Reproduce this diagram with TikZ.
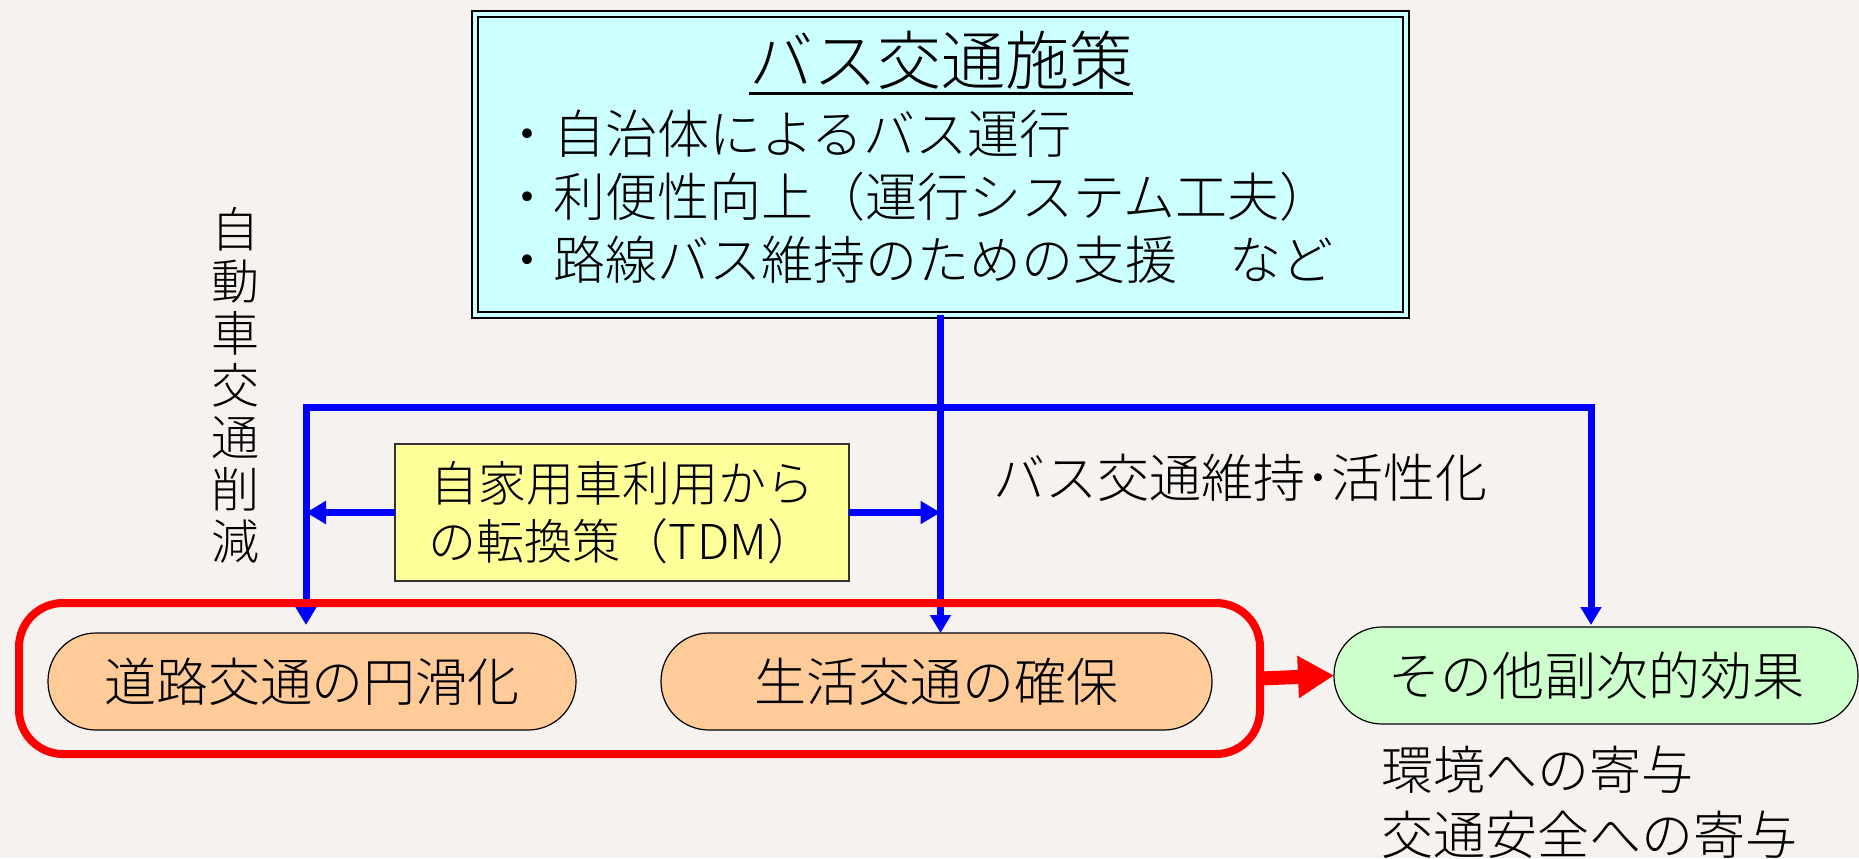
\documentclass[tikz,border=0pt]{standalone}
\usepackage{fontspec}
\setmainfont{Noto Sans CJK JP}[UprightFont=* Light]
\usetikzlibrary{arrows.meta,calc}
\definecolor{bg}{HTML}{F6F2EF}
\definecolor{topfill}{HTML}{CCFFFF}
\definecolor{orangefill}{HTML}{FFCC99}
\definecolor{greenfill}{HTML}{CCFFCC}
\definecolor{yellowfill}{HTML}{FFFF99}
\definecolor{bluel}{HTML}{0000FF}
\definecolor{redl}{HTML}{FF0000}
\begin{document}
\begin{tikzpicture}[x=0.5pt,y=-0.5pt,
  every node/.style={inner sep=0pt, outer sep=0pt},
  jp/.style={font=\fontsize{26}{31.5}\selectfont},
  goal/.style={draw=black, line width=0.6pt, fill=orangefill, rounded corners=24pt, minimum height=48.5pt, jp},
  other/.style={draw=black, line width=0.6pt, fill=greenfill, rounded corners=24pt, minimum height=48.5pt, jp},
  bl/.style={draw=bluel, line width=3.5pt},
  tipv/.tip={Triangle[length=9pt,width=10pt]},
  tiph/.tip={Triangle[length=10pt,width=11pt]},
  tipr/.tip={Triangle[length=18pt,width=20pt]}
]
\fill[bg] (0,0) rectangle (1859,858);
\useasboundingbox (0,0) rectangle (1859,858);

% top box
\node[draw=black, line width=1pt, double=topfill, double distance=2pt, fill=topfill,
      minimum width=465.5pt, minimum height=150.5pt] (top) at (940.5,164.5) {};
\node[font=\fontsize{32}{36}\selectfont, anchor=base] (title) at (941,84) {バス交通施策};
\draw[line width=1.5pt] ($(title.base west)+(0,9)$) -- ($(title.base east)+(0,9)$);
\node[jp, anchor=west, align=left] (list) at (501,197)
  {・自治体によるバス運行\\・利便性向上（運行システム工夫）\\・路線バス維持のための支援　など};

% TDM box
\node[draw=black!80, line width=0.6pt, fill=yellowfill, minimum width=227pt, minimum height=68.5pt,
      align=center, font=\fontsize{24}{29}\selectfont] (tdm) at (622,512.5)
  {自家用車利用から\\の転換策（TDM）};

% goals
\node[goal, minimum width=264pt] (road) at (312,681.5) {道路交通の円滑化};
\node[goal, minimum width=275.5pt] (life) at (936.5,681.5) {生活交通の確保};
\node[other, minimum width=262pt] (eff) at (1596,675.5) {その他副次的効果};

% blue connectors
\coordinate (hl) at (306,407);
\coordinate (hr) at (1591,407);
\coordinate (la) at (306,625);
\coordinate (ra) at (1591,625);
\draw[bl, tipv-tipv] (la) -- (hl) -- (hr) -- (ra);
\draw[bl, -tipv] (top.south) -- (top.south |- life.north);
\draw[bl, -tiph] (tdm.west) -- (tdm.west -| hl);
\draw[bl, -tiph] (tdm.east) -- (tdm.east -| top.south);

% red group
\node[draw=redl, line width=4pt, rounded corners=22pt, minimum width=620.5pt, minimum height=75.5pt] (grp) at (639.5,678.5) {};
\draw[redl, line width=7pt, -tipr] (grp.east) -- (eff.west);

% labels
\node[jp, anchor=west] (busl) at (993,478) {バス交通維持･活性化};
\node[align=center, font=\fontsize{24}{26}\selectfont] (vert) at (235,385) {自\\動\\車\\交\\通\\削\\減};
\node[anchor=west, align=left, font=\fontsize{26}{32.5}\selectfont] (sub) at (1381,802) {環境への寄与\\交通安全への寄与};
\end{tikzpicture}
\end{document}
